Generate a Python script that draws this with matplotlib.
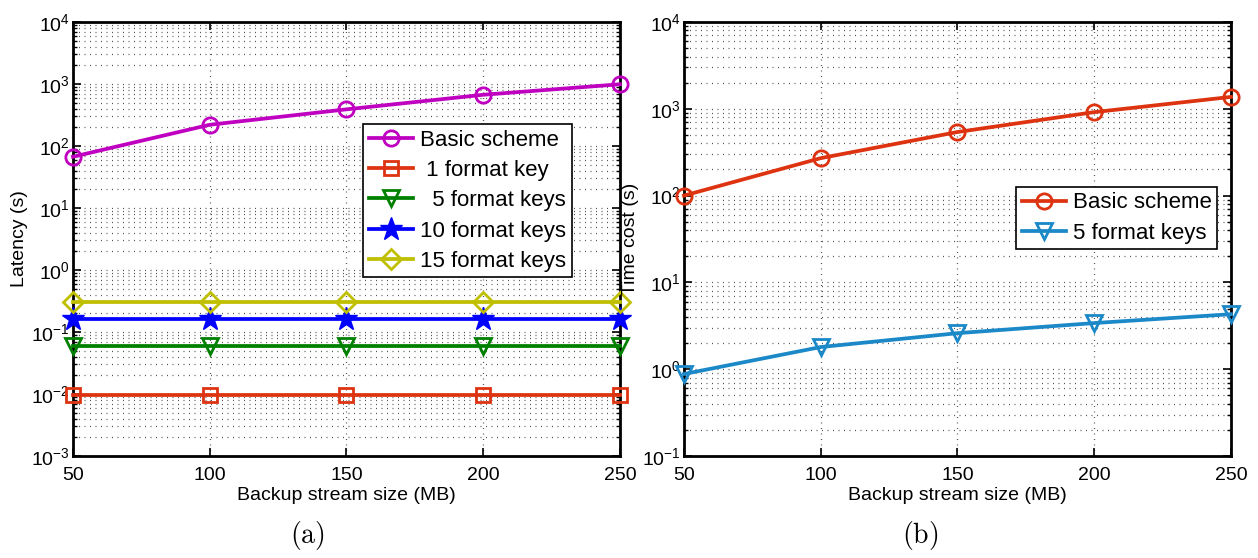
import math
import matplotlib
matplotlib.use("Agg")
import matplotlib.pyplot as plt
from matplotlib.ticker import LogLocator, FuncFormatter, NullFormatter

plt.rcParams['font.family'] = ['Liberation Sans', 'DejaVu Sans']
plt.rcParams['mathtext.fontset'] = 'cm'

sizes = [50, 100, 150, 200, 250]

# (a) latency
lat_basic = [67, 220, 390, 670, 990]
lat_key1 = [0.0098, 0.0098, 0.0098, 0.0098, 0.0098]
lat_key5 = [0.06, 0.06, 0.06, 0.06, 0.06]
lat_key10 = [0.16, 0.16, 0.16, 0.16, 0.16]
lat_key15 = [0.31, 0.31, 0.31, 0.31, 0.31]

# (b) time cost
cost_basic = [100, 270, 540, 915, 1370]
cost_key5 = [0.88, 1.8, 2.6, 3.4, 4.3]

magenta = '#C000C0'
red = '#DD3311'
green = '#008000'
blue = '#0000FF'
olive = '#BFBF00'
lightblue = '#1B88C8'

fig = plt.figure(figsize=(12.58, 5.58), dpi=100)
ax1 = fig.add_axes([0.058, 0.1828, 0.4348, 0.7778])
ax2 = fig.add_axes([0.5437, 0.1828, 0.4348, 0.7778])

lw = 2.7
ms = 11
mew = 2.0


def line(ax, y, color, marker, label, size=ms):
    ax.plot(sizes, y, color=color, lw=lw, marker=marker, ms=size,
            mfc='none', mec=color, mew=mew, label=label, clip_on=False, zorder=5)


line(ax1, lat_basic, magenta, 'o', 'Basic scheme')
line(ax1, lat_key1, red, 's', ' 1 format key', size=10)
line(ax1, lat_key5, green, 'v', '  5 format keys', size=12)
ax1.plot(sizes, lat_key10, color=blue, lw=lw, marker='*', ms=17, mfc=blue,
         mec=blue, label='10 format keys', clip_on=False, zorder=5)
line(ax1, lat_key15, olive, 'D', '15 format keys', size=10)

line(ax2, cost_basic, red, 'o', 'Basic scheme')
line(ax2, cost_key5, lightblue, 'v', '5 format keys', size=12)


def fmt(v, pos):
    e = int(round(math.log10(v)))
    return r'$\mathregular{10^{%d}}$' % e


grid_style = dict(ls=(0, (0.8, 3.6)), color='#555555', lw=0.9)

for ax, lo, hi, ylab in [(ax1, 1e-3, 1e4, 'Latency (s)'), (ax2, 1e-1, 1e4, 'Time cost (s)')]:
    ax.set_yscale('log')
    ax.set_ylim(lo, hi)
    ax.set_xlim(50, 250)
    ax.set_xticks(sizes)
    ax.yaxis.set_major_locator(LogLocator(base=10, numticks=20))
    ax.yaxis.set_minor_locator(LogLocator(base=10, subs=range(2, 10), numticks=20))
    ax.yaxis.set_major_formatter(FuncFormatter(fmt))
    ax.yaxis.set_minor_formatter(NullFormatter())
    ax.tick_params(which='both', direction='in', top=True, right=True, labelsize=14)
    ax.tick_params(which='major', length=6, width=1.2)
    ax.tick_params(which='minor', length=3, width=1.0)
    ax.tick_params(axis='y', pad=2)
    ax.tick_params(axis='x', pad=8)
    ax.grid(True, which='major', axis='both', **grid_style)
    ax.grid(True, which='minor', axis='y', **grid_style)
    for s in ax.spines.values():
        s.set_linewidth(2.0)
    ax.set_xlabel('Backup stream size (MB)', fontsize=14, labelpad=2)
    ax.set_ylabel(ylab, fontsize=14)
    ax.yaxis.set_label_coords(-0.083, 0.5)

leg1 = ax1.legend(loc='upper left', bbox_to_anchor=(0.531, 0.765), fontsize=16,
                  frameon=True, fancybox=False, edgecolor='black', framealpha=1,
                  handlelength=2.0, handletextpad=0.3, borderpad=0.25, labelspacing=0.42,
                  borderaxespad=0)
leg1.get_frame().set_linewidth(1.2)
leg2 = ax2.legend(loc='upper left', bbox_to_anchor=(0.607, 0.62), fontsize=16,
                  frameon=True, fancybox=False, edgecolor='black', framealpha=1,
                  handlelength=2.0, handletextpad=0.3, borderpad=0.25, labelspacing=0.42,
                  borderaxespad=0)
leg2.get_frame().set_linewidth(1.2)

fig.text(307 / 1258, 1 - 535 / 558, r'$\mathrm{(a)}$', fontsize=20, ha='center', va='center')
fig.text(920 / 1258, 1 - 535 / 558, r'$\mathrm{(b)}$', fontsize=20, ha='center', va='center')

fig.savefig('out.png', dpi=100)
